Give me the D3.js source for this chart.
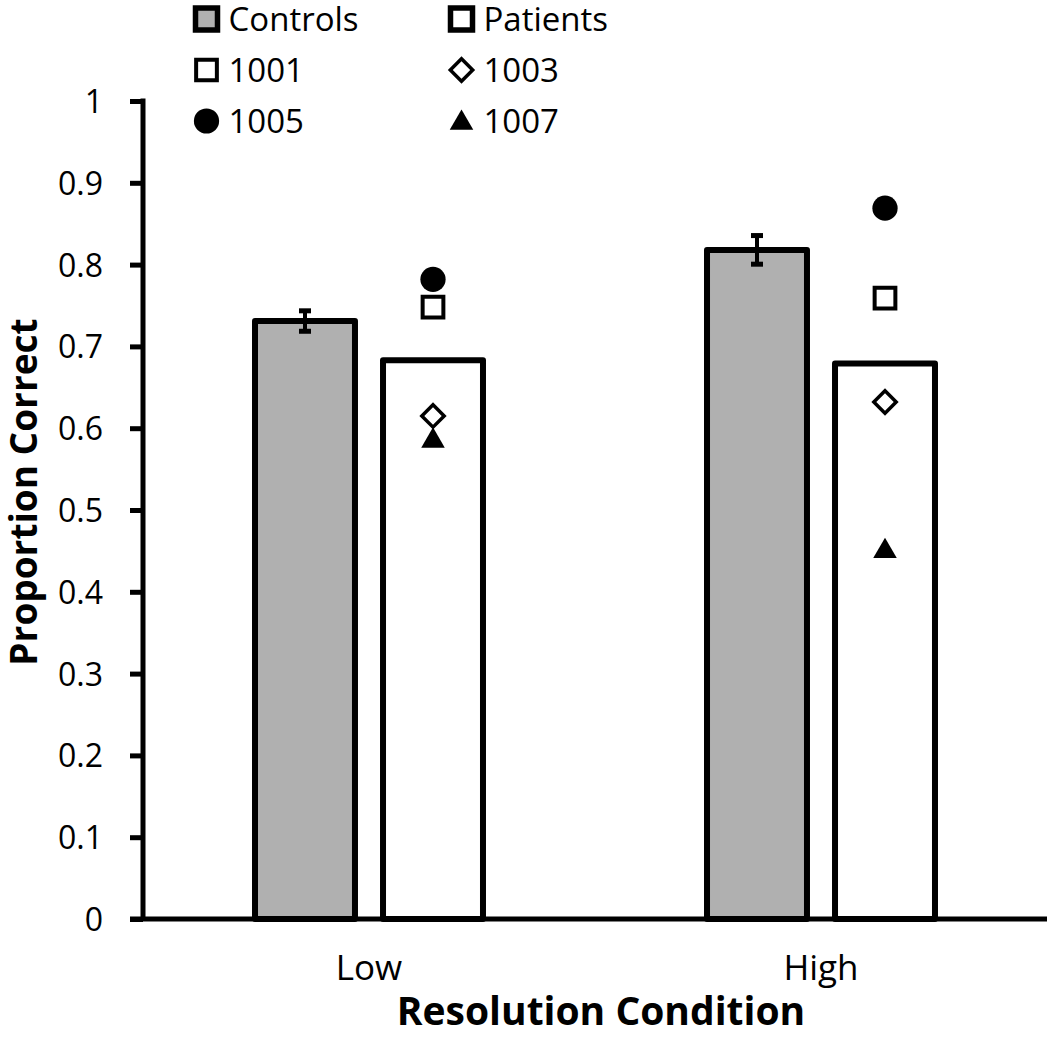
<!DOCTYPE html>
<html><head><meta charset="utf-8">
<script src="https://cdn.jsdelivr.net/npm/d3@7"></script>
<style>body{margin:0;background:#fff}svg{display:block}text{font-family:"Open Sans",Lato,sans-serif;fill:#000}</style>
</head><body><svg id="c" width="1047" height="1050"></svg>
<script>
const categories = ["Low", "High"];
const groups = ["Controls", "Patients"];
const controlsMean = [0.731, 0.818];
const controlsErr = [0.0125, 0.0175];
const patientsMean = [0.683, 0.679];
const p1001 = [0.748, 0.759];
const p1003 = [0.615, 0.632];
const p1005 = [0.782, 0.869];
const p1007 = [0.587, 0.452];
const yTicks = [0, 0.1, 0.2, 0.3, 0.4, 0.5, 0.6, 0.7, 0.8, 0.9, 1];
const yTickLabels = ["0", "0.1", "0.2", "0.3", "0.4", "0.5", "0.6", "0.7", "0.8", "0.9", "1"];

const svg = d3.select("#c");
const M = {left: 143, right: 1047, top: 101, bottom: 919};
const x = d3.scaleBand().domain(categories).range([M.left, M.right]);
const x1 = d3.scaleBand().domain(groups).range([0, x.bandwidth()]).paddingInner(0.219).paddingOuter(0.875);
const y = d3.scaleLinear().domain([0, 1]).range([M.bottom, M.top]);

const barData = [];
categories.forEach((c, i) => {
  barData.push({cat: c, g: "Controls", v: controlsMean[i], e: controlsErr[i]});
  barData.push({cat: c, g: "Patients", v: patientsMean[i]});
});

// bars
svg.append("g").selectAll("rect").data(barData).join("rect")
  .attr("x", d => x(d.cat) + x1(d.g))
  .attr("width", x1.bandwidth())
  .attr("y", d => y(d.v))
  .attr("height", d => y(0) - y(d.v))
  .attr("fill", d => d.g === "Controls" ? "#b0b0b0" : "#fff")
  .attr("stroke", "#000").attr("stroke-width", 6).attr("stroke-linejoin", "round");

// error bars
const eb = svg.append("g").selectAll("g").data(barData.filter(d => d.e)).join("g")
  .attr("transform", d => `translate(${x(d.cat) + x1(d.g) + x1.bandwidth()/2},0)`);
eb.append("line").attr("y1", d => y(d.v + d.e)).attr("y2", d => y(d.v - d.e))
  .attr("stroke", "#000").attr("stroke-width", 4);
eb.selectAll("rect").data(d => [d.v + d.e, d.v - d.e]).join("rect")
  .attr("x", -6).attr("width", 12).attr("y", v => y(v) - 2.5).attr("height", 5).attr("fill", "#000");

// axes
const yAxis = d3.axisLeft(y).tickValues(yTicks).tickFormat((d, i) => yTickLabels[i]).tickSize(13).tickPadding(27);
const gy = svg.append("g").attr("transform", `translate(${M.left},0)`).call(yAxis);
gy.select(".domain").remove();
gy.selectAll(".tick line").attr("stroke", "#000").attr("stroke-width", 5);
gy.selectAll(".tick text").attr("font-size", 32).attr("font-family", "Open Sans").attr("dy", "0.36em");
svg.append("line").attr("x1", M.left).attr("x2", M.left).attr("y1", y(1) - 2.5).attr("y2", y(0))
  .attr("stroke", "#000").attr("stroke-width", 5);

const xAxis = d3.axisBottom(x).tickSize(0).tickPadding(36);
const gx = svg.append("g").attr("transform", `translate(0,${M.bottom})`).call(xAxis);
gx.select(".domain").remove();
gx.selectAll(".tick text").attr("font-size", 35).attr("font-family", "Open Sans");
svg.append("line").attr("x1", M.left - 13).attr("x2", M.right).attr("y1", y(0)).attr("y2", y(0))
  .attr("stroke", "#000").attr("stroke-width", 5);

// patient markers
const px = c => x(c) + x1("Patients") + x1.bandwidth()/2;
function addSymbol(g, kind, t) {
  if (kind === "square") g.append("path").attr("d", d3.symbol().type(d3.symbolSquare).size(430)()).attr("transform", t)
    .attr("fill", "#fff").attr("stroke", "#000").attr("stroke-width", 4);
  if (kind === "diamond") g.append("path").attr("d", d3.symbol().type(d3.symbolSquare).size(250)()).attr("transform", t + " rotate(45)")
    .attr("fill", "#fff").attr("stroke", "#000").attr("stroke-width", 3.5);
  if (kind === "circle") g.append("path").attr("d", d3.symbol().type(d3.symbolCircle).size(500)()).attr("transform", t)
    .attr("fill", "#000");
  if (kind === "triangle") g.append("path").attr("d", d3.symbol().type(d3.symbolTriangle).size(240)()).attr("transform", t + " translate(0,2)")
    .attr("fill", "#000");
  if (kind === "boxGray" || kind === "boxWhite") g.append("rect").attr("x", -11).attr("y", -11).attr("width", 22).attr("height", 22)
    .attr("transform", t).attr("fill", kind === "boxGray" ? "#b0b0b0" : "#fff").attr("stroke", "#000").attr("stroke-width", 5.5);
}
function drawMarkers(vals, kind) {
  const g = svg.append("g");
  categories.forEach((c, i) => addSymbol(g, kind, `translate(${px(c)},${y(vals[i])})`));
}
drawMarkers(p1001, "square");
drawMarkers(p1003, "diamond");
drawMarkers(p1005, "circle");
drawMarkers(p1007, "triangle");

// legend
const legendItems = [
  {label: "Controls", kind: "boxGray", col: 0, row: 0},
  {label: "Patients", kind: "boxWhite", col: 1, row: 0},
  {label: "1001", kind: "square", col: 0, row: 1},
  {label: "1003", kind: "diamond", col: 1, row: 1},
  {label: "1005", kind: "circle", col: 0, row: 2},
  {label: "1007", kind: "triangle", col: 1, row: 2}
];
const lg = svg.append("g");
legendItems.forEach(it => {
  const cx = 206.5 + it.col * 255, cy = 19 + it.row * 51;
  addSymbol(lg, it.kind, `translate(${cx},${cy})`);
  lg.append("text").attr("x", cx + 22).attr("y", cy).attr("dy", "0.36em").attr("font-size", 33).text(it.label);
});

// titles
svg.append("text").attr("x", 601).attr("y", 1025)
  .attr("text-anchor", "middle").attr("font-weight", "bold").attr("font-size", 39).text("Resolution Condition");
svg.append("text").attr("transform", `translate(37,492) rotate(-90)`)
  .attr("text-anchor", "middle").attr("font-weight", "bold").attr("font-size", 37).text("Proportion Correct");
</script></body></html>
